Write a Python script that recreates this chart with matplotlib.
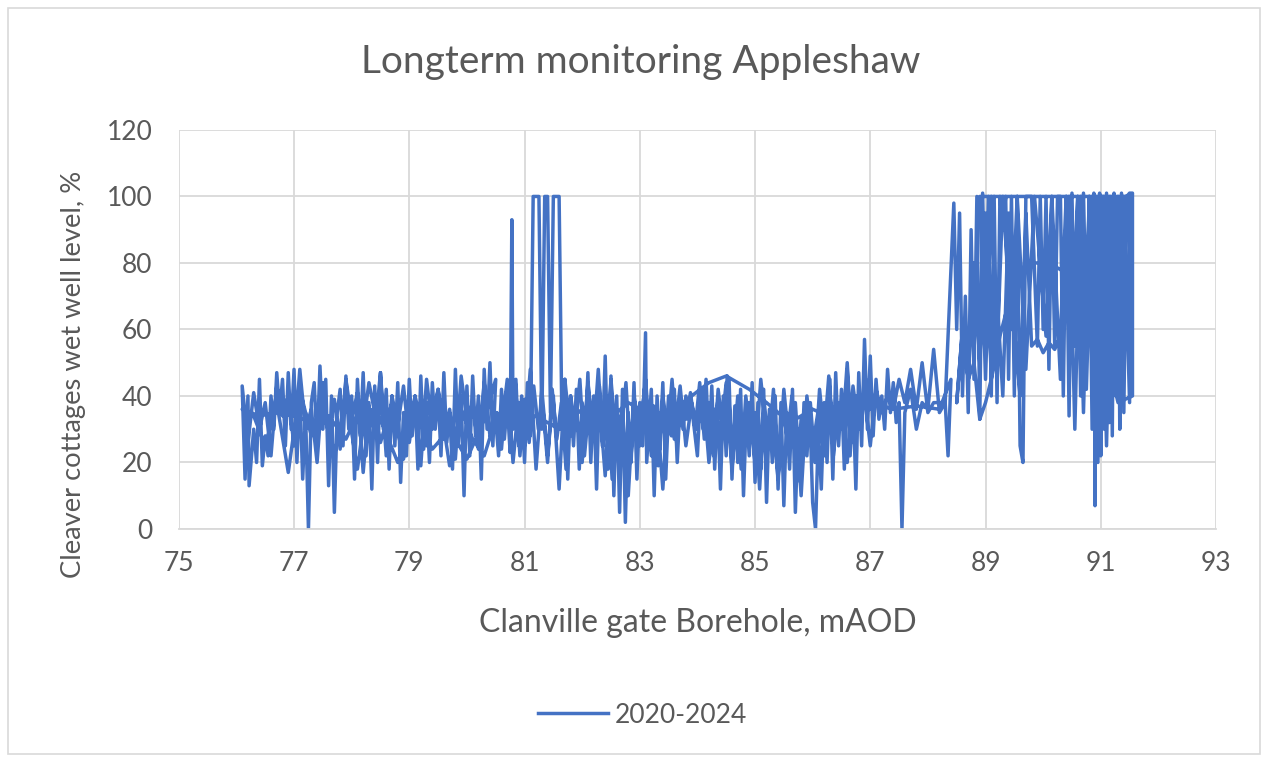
import matplotlib.pyplot as plt
from matplotlib.patches import Rectangle

plt.rcParams['font.family'] = ['Lato', 'DejaVu Sans']

title = 'Longterm monitoring Appleshaw'
x_label = 'Clanville gate Borehole, mAOD'
y_label = 'Cleaver cottages wet well level, %'
series_name = '2020-2024'
x_ticks = [75, 77, 79, 81, 83, 85, 87, 89, 91, 93]
y_ticks = [0, 20, 40, 60, 80, 100, 120]

# borehole level (mAOD) and wet well level (%)
mid_x = [
    80.52, 80.6, 80.68, 80.76, 80.84, 80.92, 81.0, 81.08, 81.16, 81.24,
    81.32, 81.4, 81.48, 81.56, 81.64, 81.72, 81.8, 81.88, 81.96, 82.04,
    82.12, 82.2, 82.28, 82.36, 82.44, 82.52, 82.6, 82.68, 82.76, 82.84,
    82.92, 83.0, 83.08, 83.16, 83.24, 83.32, 83.4, 83.48, 83.56, 83.64,
    83.72, 83.8, 83.88, 83.96, 84.04, 84.12, 84.2, 84.28, 84.36, 84.44,
    84.52, 84.6, 84.68, 84.76, 84.84, 84.92, 85.0, 85.08, 85.16, 85.24,
    85.32, 85.4, 85.48, 85.56, 85.64, 85.72, 85.8, 85.88, 85.96, 86.04,
    86.12, 86.2, 86.28, 86.36, 86.44, 86.52, 86.6, 86.68, 86.76, 86.84,
    86.92, 87.0,
]
mid_y = [
    35, 24, 41, 28, 44, 22, 39, 26, 43, 30,
    36, 20, 42, 27, 38, 18, 40, 30, 45, 22,
    37, 28, 48, 25, 40, 15, 36, 30, 44, 20,
    38, 25, 42, 32, 37, 19, 40, 28, 45, 26,
    38, 33, 41, 30, 44, 27, 38, 22, 42, 30,
    46, 24, 36, 18, 40, 28, 35, 12, 38, 25,
    42, 16, 37, 27, 40, 14, 33, 24, 38, 20,
    42, 28, 46, 22, 38, 30, 50, 26, 40, 33,
    45, 36,
]
left_x = [
    80.4, 80.3, 80.2, 80.1, 80.0, 79.9, 79.8, 79.7, 79.6, 79.5,
    79.4, 79.3, 79.2, 79.1, 79.0, 78.9, 78.8, 78.7, 78.6, 78.5,
    78.4, 78.3, 78.2, 78.1, 78.0, 77.9, 77.8, 77.7, 77.6, 77.5,
    77.4, 77.3, 77.2, 77.1, 77.0, 76.9, 76.8, 76.7, 76.6, 76.5,
    76.4, 76.3, 76.2,
]
left_y = [
    28, 44, 24, 38, 33, 46, 21, 36, 27, 42,
    30, 45, 19, 38, 26, 43, 31, 40, 22, 47,
    29, 37, 17, 41, 33, 45, 24, 39, 28, 44,
    20, 36, 30, 48, 25, 40, 34, 43, 22, 38,
    30, 41, 26,
]
main_x = [
    76.1, 76.15, 76.2, 76.22, 76.3, 76.35, 76.4, 76.45, 76.5, 76.55, 76.6, 76.65, 76.7, 76.75,
    76.8, 76.85, 76.9, 76.95, 77.0, 77.05, 77.1, 77.15, 77.2, 77.25, 77.3, 77.35, 77.4, 77.45,
    77.5, 77.55, 77.6, 77.65, 77.7, 77.75, 77.8, 77.85, 77.9, 77.95, 78.0, 78.05, 78.1, 78.15,
    78.2, 78.25, 78.3, 78.35, 78.4, 78.45, 78.5, 78.55, 78.6, 78.65, 78.7, 78.75, 78.8, 78.85,
    78.9, 78.95, 79.0, 79.05, 79.1, 79.15, 79.2, 79.25, 79.3, 79.35, 79.4, 79.45, 79.5, 79.55,
    79.6, 79.65, 79.7, 79.75, 79.8, 79.85, 79.9, 79.95, 80.0, 80.05, 80.1, 80.15, 80.2, 80.25,
    80.3, 80.35, 80.4, 80.45, 80.5,
    80.3, 80.0, 79.7, 79.4, 79.1, 78.8, 78.5, 78.2, 77.9, 77.6, 77.3, 77.0, 76.7, 76.4, 76.1,
    76.3, 76.5, 76.7, 76.9, 77.1, 77.3, 77.5, 77.7, 77.9, 78.1, 78.3, 78.5, 78.7, 78.9, 79.1,
    79.3, 79.5, 79.7, 79.9, 80.1, 80.3, 80.5,
    80.55, 80.6, 80.65, 80.7, 80.75, 80.78, 80.8, 80.85, 80.9, 80.95, 81.0, 81.05, 81.1, 81.15,
    81.2, 81.25, 81.3, 81.35, 81.4, 81.45, 81.5, 81.55, 81.6, 81.65, 81.7, 81.75, 81.8, 81.85,
    81.9, 81.95, 82.0, 82.05, 82.1, 82.15, 82.2, 82.25, 82.3, 82.35, 82.4, 82.45, 82.5, 82.55,
    82.6, 82.65, 82.7, 82.75, 82.8, 82.85, 82.9, 82.95, 83.0, 83.05, 83.1, 83.12, 83.2, 83.25,
    83.3, 83.35, 83.4, 83.45, 83.5, 83.55, 83.6, 83.65, 83.7, 83.75, 83.8, 83.85, 83.9,
    84.0, 84.05, 84.1, 84.15, 84.2, 84.25, 84.3, 84.35, 84.4, 84.45, 84.5, 84.55, 84.6, 84.65,
    84.7, 84.75, 84.8, 84.85, 84.9, 84.95, 85.0, 85.05, 85.1, 85.15, 85.2, 85.25, 85.3, 85.35,
    85.4, 85.45, 85.5, 85.55, 85.6, 85.65, 85.7, 85.75, 85.8, 85.85, 85.9, 85.95, 86.0, 86.05,
    86.1, 86.15, 86.2, 86.25, 86.3, 86.35, 86.4, 86.45, 86.5, 86.55, 86.6, 86.65, 86.7, 86.75,
    86.8, 86.85, 86.9, 86.95, 87.0, 87.05, 87.1, 87.15, 87.2, 87.25, 87.3, 87.35, 87.4, 87.45,
    87.5, 87.55, 87.6, 87.7, 87.8, 87.9, 88.0, 88.1, 88.2, 88.3, 88.35, 88.4,
    88.2, 87.8, 87.4, 87.0, 86.7, 86.4, 86.0, 85.6, 85.2, 84.9, 84.5, 84.2, 83.9, 83.6, 83.2,
    82.8, 82.4, 82.0, 81.6, 81.2, 80.8, 80.5,
    80.6, 80.7, 80.8, 80.9, 81.0, 81.1, 81.2, 81.3, 81.4, 81.5, 81.6, 81.7, 81.8, 81.9, 82.0,
    82.1, 82.2, 82.3, 82.4, 82.5, 82.6, 82.7, 82.8, 82.9, 83.0, 83.1, 83.2, 83.3, 83.4, 83.5,
    83.6, 83.7, 83.8, 83.9, 84.0, 84.1, 84.2, 84.3, 84.4, 84.5, 84.6, 84.7, 84.8, 84.9, 85.0,
    85.1, 85.2, 85.3, 85.4, 85.5, 85.6, 85.7, 85.8, 85.9, 86.0, 86.1, 86.2, 86.3, 86.4, 86.5,
    86.6, 86.7, 86.8, 86.9, 87.0, 87.1, 87.2, 87.3, 87.4, 87.5, 87.6, 87.7, 87.8, 87.9, 88.0,
    88.1, 88.3,
    88.45, 88.5, 88.55, 88.6, 88.65, 88.7, 88.75, 88.8, 88.85, 88.9, 88.95, 89.0, 89.05, 89.1,
    89.15, 89.2, 89.25, 89.3, 89.35, 89.4, 89.45, 89.5, 89.55, 89.6, 89.65, 89.7, 89.8, 89.9,
    89.95, 90.0, 90.05, 90.1, 90.15, 90.2, 90.25, 90.3, 90.35, 90.4, 90.45, 90.5, 90.55, 90.6,
    90.65, 90.7, 90.75, 90.8, 90.85, 90.88, 90.9, 90.92, 90.95, 90.98, 91.0, 91.03, 91.06, 91.1,
    91.13, 91.16, 91.2, 91.23, 91.26, 91.3, 91.33, 91.36, 91.4, 91.45, 91.5, 91.55, 91.55,
    91.3, 91.0, 90.8, 90.6, 90.4, 90.2, 90.0, 89.8, 89.6, 89.4, 89.25, 89.1, 89.0, 88.9,
    88.8, 88.7, 88.6, 88.5, 88.6, 88.7, 88.8, 88.9, 89.0, 89.1, 89.2, 89.3, 89.4, 89.5, 89.6,
    89.7, 89.8, 89.9, 90.0, 90.1, 90.2, 90.3, 90.4, 90.5, 90.6, 90.7, 90.8, 90.9, 91.0, 91.1,
    91.2, 91.3, 91.4, 91.5, 91.5, 88.9,
]
main_y = [
    43, 15, 40, 13, 30, 20, 45, 19, 28, 22, 40, 30, 47, 35,
    45, 25, 47, 30, 48, 20, 42, 15, 35, 0, 38, 44, 25, 49,
    30, 45, 13, 40, 5, 35, 42, 25, 46, 30, 40, 15, 45, 28,
    47, 22, 38, 12, 43, 20, 47, 30, 42, 18, 40, 25, 44, 14,
    35, 22, 45, 28, 40, 18, 46, 24, 38, 20, 44, 30, 41, 22,
    47, 26, 35, 18, 48, 25, 40, 10, 43, 22, 46, 28, 40, 15,
    48, 30, 50, 25, 45,
    33, 21, 30, 24, 35, 20, 33, 38, 27, 34, 32, 34, 35, 34, 36,
    34, 25, 38, 17, 42, 28, 36, 22, 40, 18, 44, 26, 38, 21, 40,
    25, 42, 19, 36, 27, 22, 33,
    22, 42, 27, 38, 23, 93, 30, 45, 25, 40, 20, 44, 28, 100,
    100, 100, 30, 100, 100, 35, 100, 100, 100, 30, 45, 15, 40, 25,
    42, 18, 38, 27, 47, 20, 40, 12, 43, 25, 52, 18, 46, 10,
    40, 5, 42, 2, 35, 20, 44, 15, 38, 25, 59, 20, 42, 10,
    40, 24, 44, 15, 36, 28, 42, 20, 38, 30, 40, 33, 37,
    22, 40, 30, 45, 25, 43, 18, 38, 12, 40, 22, 45, 15, 37,
    20, 42, 10, 35, 22, 44, 14, 38, 18, 42, 8, 36, 20, 40,
    12, 38, 7, 35, 18, 42, 5, 30, 15, 38, 22, 36, 8, 0,
    30, 12, 38, 20, 45, 15, 47, 25, 42, 18, 48, 22, 40, 12,
    47, 25, 57, 30, 52, 28, 45, 33, 40, 30, 48, 35, 44, 32,
    38, 0, 35, 42, 30, 38, 36, 54, 35, 38, 22, 45,
    36, 37, 36, 38, 35, 33, 36, 32, 38, 42, 46, 44, 40, 36, 34,
    38, 32, 36, 30, 34, 31, 35,
    30, 45, 20, 38, 25, 48, 18, 42, 22, 40, 12, 45, 28, 35, 20,
    44, 28, 38, 16, 45, 24, 36, 10, 40, 28, 45, 22, 35, 12, 40,
    27, 43, 25, 38, 30, 42, 20, 36, 28, 44, 18, 40, 25, 38, 20,
    45, 28, 35, 15, 42, 24, 38, 10, 40, 25, 36, 22, 40, 28, 36,
    20, 43, 30, 40, 25, 42, 35, 40, 36, 45, 38, 48, 36, 50, 35,
    38, 38,
    98, 60, 95, 40, 70, 35, 90, 45, 100, 33, 101, 60, 100, 40,
    100, 38, 100, 90, 100, 45, 100, 40, 100, 25, 20, 100, 100, 55,
    100, 60, 100, 48, 100, 55, 100, 100, 40, 100, 34, 101, 55, 100,
    40, 101, 60, 100, 30, 101, 7, 100, 25, 101, 22, 100, 30, 101,
    35, 100, 28, 101, 40, 100, 30, 101, 35, 100, 101, 101, 40,
    38, 60, 70, 72, 77, 79, 80, 80, 76, 68, 58, 45, 38, 33,
    50, 45, 60, 38, 60, 45, 80, 50, 95, 45, 70, 40, 95, 60, 40,
    95, 55, 57, 53, 56, 54, 58, 100, 60, 100, 35, 100, 45, 100, 25,
    100, 40, 100, 38, 100, 100,
]
high_x = [
    89.0, 89.1, 89.2, 89.3, 89.45, 89.55, 89.7, 89.85, 90.05, 90.15, 90.3,
    90.45, 90.55, 90.65, 90.75, 90.85, 90.95, 91.05, 91.15, 91.25, 91.35, 91.45,
]
high_y = [
    45, 100, 52, 100, 60, 100, 48, 100, 58, 100, 45,
    100, 30, 100, 42, 100, 20, 100, 32, 100, 45, 100,
]

level_mAOD = mid_x[::-1] + left_x + main_x + high_x
wet_well_pct = mid_y[::-1] + left_y + main_y + high_y

fig = plt.figure(figsize=(12.68, 7.6), dpi=100)
fig.patches.append(Rectangle((0.006, 0.008), 0.988, 0.982, transform=fig.transFigure,
                             fill=False, edgecolor='#d9d9d9', linewidth=1.2))
ax = fig.add_axes([0.141, 0.304, 0.818, 0.525])

ax.plot(level_mAOD, wet_well_pct, color='#4472C4', linewidth=2.5, label=series_name)

ax.set_xlim(75, 93)
ax.set_ylim(0, 120)
ax.set_xticks(x_ticks)
ax.set_yticks(y_ticks)
ax.grid(True, color='#d9d9d9', linewidth=1.3)
ax.set_axisbelow(True)
for s in ['top', 'right', 'left']:
    ax.spines[s].set_visible(False)
ax.spines['bottom'].set_color('#d9d9d9')
ax.spines['bottom'].set_linewidth(1.3)
ax.tick_params(length=0, labelsize=19, colors='#595959')
ax.tick_params(axis='x', pad=16)
ax.tick_params(axis='y', pad=19)

fig.text(0.550, 1 - 623 / 760, x_label, ha='center', va='center', fontsize=23, color='#595959')
fig.text(74 / 1268, 1 - 374 / 760, y_label, ha='center', va='center', rotation=90,
         fontsize=19.7, color='#595959')
fig.text(0.505, 0.918, title, ha='center', va='center', fontsize=28, color='#595959')

fig.legend(loc='center', bbox_to_anchor=(0.507, 0.059), frameon=False, fontsize=19,
           labelcolor='#595959', handlelength=2.65, handletextpad=0.25)

fig.savefig('out.png', dpi=100)
